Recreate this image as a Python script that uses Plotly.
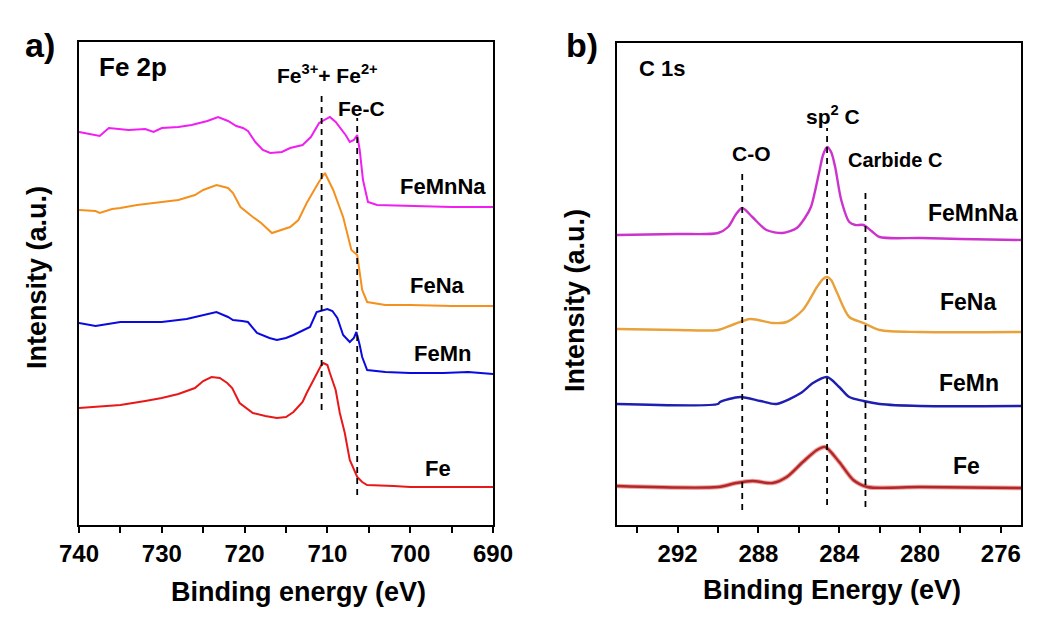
import plotly.graph_objects as go

W, H = 1058, 618

# ---------------- Panel a: Fe 2p ----------------
fe2p_FeMnNa_E = [740, 738.5, 737.5, 736.4, 734, 732, 731, 730, 728, 726.4, 724.5, 723.2, 722, 721, 720.2, 719.6,
                 718.7, 717.8, 716.9, 715.5, 714.5, 713, 712, 711, 710.3, 709.7, 709, 708.5, 707.8,
                 707.3, 706.8, 706.4, 706.1, 705.7, 705.3, 705.1, 704, 700, 695, 690]
fe2p_FeMnNa_I = [393, 391, 389, 397, 395, 396, 393, 397, 398, 400, 404, 408, 404, 399, 397, 394,
                 383, 375, 372, 373, 377, 380, 388, 402, 405, 408, 403, 398, 390,
                 383, 385, 390, 375, 345, 328, 323, 320, 319, 318, 318]

fe2p_FeNa_E = [740, 738, 737.5, 736, 735, 733, 730, 728, 726, 725, 723.4, 722, 721.4, 720.5, 719,
               718, 716.7, 715.5, 714.5, 713.5, 712.5, 711.1, 710.3, 709.3, 708.1, 707.1, 706.4,
               705.8, 705.2, 703, 700, 695, 690]
fe2p_FeNa_I = [315, 314, 312, 316, 317, 320, 323, 325, 330, 335, 340, 337, 332, 318, 308,
               302, 292, 295, 298, 305, 322, 342, 352, 335, 308, 275, 270,
               235, 223, 220, 220, 219, 219]

fe2p_FeMn_E = [740, 738, 735, 732, 730, 727, 725, 723.4, 722, 721.4, 720.3, 719.6, 718.5, 717, 716.1,
               715, 714.1, 712.1, 711.3, 710.5, 710, 709.4, 708.8, 708.1, 707.3, 706.8, 706.5,
               706.1, 705.8, 705.2, 703, 700, 696, 693, 690]
fe2p_FeMn_I = [202, 199, 203, 203, 203, 206, 210, 213, 208, 205, 204, 203, 192, 187, 185,
               187, 190, 198, 213, 215, 216, 214, 207, 190, 183, 187, 193,
               180, 168, 155, 153, 152, 152, 153, 151]

fe2p_Fe_E = [740, 738, 735, 732, 730, 728, 726, 725, 724, 723, 722.1, 721.5, 720.6, 719, 717.5,
             716.1, 715, 714.1, 713, 712.5, 711.3, 710.8, 710.5, 710, 709.7, 709, 708.5, 707.9,
             707.3, 706.8, 706.4, 705.8, 705.2, 702, 700, 695, 690]
fe2p_Fe_I = [117, 118, 120, 124, 127, 131, 137, 144, 148, 147, 142, 137, 122, 112, 109,
             107, 108, 113, 123, 132, 152, 159, 162, 160, 152, 135, 112, 92,
             65, 55, 48, 43, 40, 39, 38, 38, 38]

fe2p_dash_E = [710.7, 706.4]
fe2p_dash_lo = [115, 30]
fe2p_dash_hi = [434, 407]

# ---------------- Panel b: C 1s ----------------
c1s_FeMnNa_E = [295, 292, 290, 289.5, 289.1, 288.8, 288.3, 287.6, 286.8, 286.1, 285.7, 285.4, 285,
                284.8, 284.6, 284.4, 284.2, 283.9, 283.5, 283.2, 282.8, 282.4, 282, 280, 278, 275]
c1s_FeMnNa_I = [290, 291, 292, 298, 311, 317, 308, 295, 292, 297, 307, 318, 352,
                370, 378, 373, 358, 325, 303, 300, 300, 294, 288, 287, 286, 285]

c1s_FeNa_E = [295, 292, 290, 289.3, 288.4, 287.3, 286.6, 285.8, 285.1, 284.8, 284.6, 284.4, 284.1,
              283.5, 282.8, 282, 280, 275]
c1s_FeNa_I = [196, 195, 195, 200, 206, 202, 203, 215, 238, 246, 248, 245, 232,
              208, 202, 195, 193, 193]

c1s_FeMn_E = [295, 290, 289.9, 288.9, 287.9, 287.1, 285.9, 285.3, 284.6, 284, 283.5, 282.8, 282, 280, 275]
c1s_FeMn_I = [121, 121, 123, 128, 124, 121, 132, 142, 148, 138, 128, 124, 121, 119, 119]

c1s_Fe_E = [295, 290, 289.1, 288.3, 287.3, 286.6, 285.8, 285.1, 284.7, 284, 283.3, 282.6, 280, 275]
c1s_Fe_I = [39, 38, 42, 44, 42, 48, 63, 75, 78, 63, 45, 38, 38, 37]

c1s_dash_E = [288.8, 284.6, 282.7]
c1s_dash_lo = [15, 20, 18]
c1s_dash_hi = [355, 397, 337]

FONT = "Liberation Sans"

def px(x):
    return x / W

def py(y):
    return 1 - y / H

fig = go.Figure()

# panel a curves
for E, I, col in [(fe2p_FeMnNa_E, fe2p_FeMnNa_I, "#f01ef0"),
                  (fe2p_FeNa_E, fe2p_FeNa_I, "#f5901e"),
                  (fe2p_FeMn_E, fe2p_FeMn_I, "#0a0ae0"),
                  (fe2p_Fe_E, fe2p_Fe_I, "#e81818")]:
    fig.add_trace(go.Scatter(x=E, y=I, mode="lines", line=dict(color=col, width=2),
                             xaxis="x", yaxis="y", showlegend=False))
for E, lo, hi in zip(fe2p_dash_E, fe2p_dash_lo, fe2p_dash_hi):
    fig.add_trace(go.Scatter(x=[E, E], y=[lo, hi], mode="lines",
                             line=dict(color="black", width=1.8, dash="6px,5px"),
                             xaxis="x", yaxis="y", showlegend=False))

# panel b curves
fig.add_trace(go.Scatter(x=c1s_Fe_E, y=c1s_Fe_I, mode="lines",
                         line=dict(color="rgba(235,120,120,0.7)", width=4.5, shape="spline", smoothing=0.8),
                         xaxis="x2", yaxis="y2", showlegend=False))
for E, I, col in [(c1s_FeMnNa_E, c1s_FeMnNa_I, "#cc33cc"),
                  (c1s_FeNa_E, c1s_FeNa_I, "#e9a23a"),
                  (c1s_FeMn_E, c1s_FeMn_I, "#1e1eb0"),
                  (c1s_Fe_E, c1s_Fe_I, "#b02828")]:
    fig.add_trace(go.Scatter(x=E, y=I, mode="lines",
                             line=dict(color=col, width=2.4, shape="spline", smoothing=0.8),
                             xaxis="x2", yaxis="y2", showlegend=False))
for E, lo, hi in zip(c1s_dash_E, c1s_dash_lo, c1s_dash_hi):
    fig.add_trace(go.Scatter(x=[E, E], y=[lo, hi], mode="lines",
                             line=dict(color="black", width=1.8, dash="6px,5px"),
                             xaxis="x2", yaxis="y2", showlegend=False))

xcommon = dict(showline=True, mirror=True, linecolor="black", linewidth=2,
               ticks="outside", ticklen=6, tickwidth=2, tickcolor="black",
               showgrid=False, zeroline=False, automargin=False,
               tickfont=dict(family=FONT, size=24, color="black", weight="bold"))
ycommon = dict(showline=True, mirror=True, linecolor="black", linewidth=2,
               ticks="", showticklabels=False, showgrid=False, zeroline=False, automargin=False)

fig.update_layout(
    width=W, height=H, autosize=False,
    margin=dict(l=0, r=0, t=0, b=0, pad=0, autoexpand=False),
    paper_bgcolor="white", plot_bgcolor="white",
    xaxis=dict(domain=[px(79), px(493)], range=[740, 690], tick0=690, dtick=10,
               minor=dict(dtick=5, ticks="outside", ticklen=6, tickwidth=2, tickcolor="black"),
               anchor="y", **xcommon),
    yaxis=dict(domain=[py(525), py(42)], range=[0, 483], anchor="x", **ycommon),
    xaxis2=dict(domain=[px(617), px(1021)], range=[295, 275], tick0=276, dtick=4,
                minor=dict(dtick=2, ticks="outside", ticklen=6, tickwidth=2, tickcolor="black"),
                anchor="y2", **xcommon),
    yaxis2=dict(domain=[py(525), py(43)], range=[0, 482], anchor="x2", **ycommon),
)

def ann(text, x, y, size, xanchor="center", angle=0):
    fig.add_annotation(text=text, x=px(x), y=py(y), xref="paper", yref="paper",
                       xanchor=xanchor, yanchor="middle", showarrow=False, textangle=angle,
                       font=dict(family=FONT, size=size, color="black", weight="bold"))

# panel labels and titles
ann("a)", 40, 45, 34)
ann("b)", 582, 45, 34)
ann("Intensity (a.u.)", 37, 278, 27, angle=-90)
ann("Intensity (a.u.)", 575, 301, 27, angle=-90)
ann("Binding energy (eV)", 298, 592, 27)
ann("Binding Energy (eV)", 832, 590, 27)

# panel a text
ann("Fe 2p", 97, 67, 26, xanchor="left")
ann("Fe<sup>3+</sup>+ Fe<sup>2+</sup>", 327, 74, 21)
ann("Fe-C", 361, 108, 21)
ann("FeMnNa", 443, 186, 22)
ann("FeNa", 437, 285, 22)
ann("FeMn", 442, 353, 22)
ann("Fe", 438, 468, 22)

# panel b text
ann("C 1s", 662, 69, 22)
ann("sp<sup>2</sup> C", 833, 115, 21)
ann("C-O", 751, 153, 21)
ann("Carbide C", 895, 160, 20)
ann("FeMnNa", 973, 213, 23)
ann("FeNa", 968, 302, 23)
ann("FeMn", 969, 383, 23)
ann("Fe", 966, 466, 23)

fig.write_html("out.html")
